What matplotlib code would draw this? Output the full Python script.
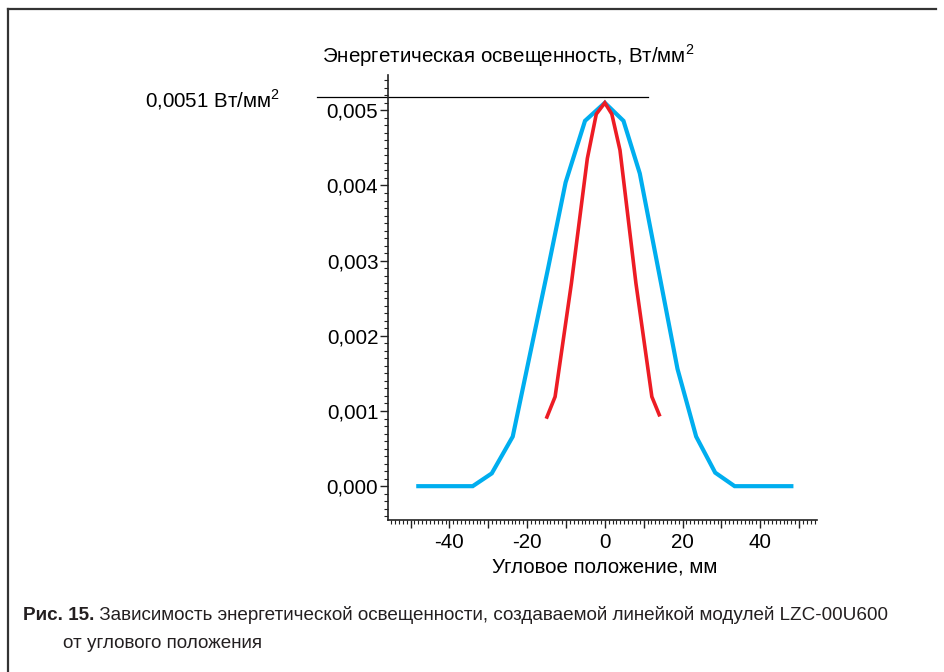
import matplotlib
matplotlib.use("Agg")
import matplotlib.pyplot as plt
from matplotlib.ticker import MultipleLocator, FuncFormatter
from matplotlib.lines import Line2D
from matplotlib import font_manager

# ---- data ----
blue_x = [-48, -34, -29.1, -23.7, -19.4, -14.6, -10.1, -5.1, 0, 4.8, 9.0, 13.9, 18.7, 23.5, 28.4, 33.4, 48]
blue_y = [0.0, 0.0, 0.00017, 0.00066, 0.00172, 0.0029, 0.00404, 0.00486, 0.0051,
          0.00486, 0.00416, 0.00285, 0.00156, 0.00066, 0.00018, 0.0, 0.0]
red_x = [-14.9, -12.8, -8.6, -4.5, -2.2, 0, 1.8, 3.9, 8.0, 12.1, 14.0]
red_y = [0.00092, 0.00119, 0.0027, 0.00436, 0.00495, 0.0051, 0.00495, 0.00447, 0.0027, 0.00119, 0.00095]
ref_level = 0.00518
ref_x = [-74, 11.1]
y_ticks = [0.000, 0.001, 0.002, 0.003, 0.004, 0.005]

title_text = "Энергетическая освещенность, Вт/мм$^2$"
xlabel_text = "Угловое положение, мм"
ref_label = "0,0051 Вт/мм$^2$"
cap_bold = "Рис. 15."
cap_line1 = " Зависимость энергетической освещенности, создаваемой линейкой модулей LZC-00U600"
cap_line2 = "от углового положения"

names = {f.name for f in font_manager.fontManager.ttflist}
main_font = "Liberation Sans" if "Liberation Sans" in names else "DejaVu Sans"
cap_font = "Liberation Sans Narrow" if "Liberation Sans Narrow" in names else main_font
plt.rcParams["font.family"] = [main_font, "DejaVu Sans"]
plt.rcParams["mathtext.fontset"] = "custom"
plt.rcParams["mathtext.rm"] = main_font

FS = 14.8
CAP_FS = 13.6

W, H = 945, 672
fig = plt.figure(figsize=(W / 100, H / 100), dpi=100)
fig.patch.set_facecolor("white")

ax = fig.add_axes([388 / W, 1 - 520 / H, (817 - 388) / W, (520 - 75) / H])
ax.plot(blue_x, blue_y, color="#00AEEF", lw=3.0, solid_joinstyle="miter")
ax.plot(red_x, red_y, color="#ED1C24", lw=2.6, solid_joinstyle="miter")
ax.plot(ref_x, [ref_level, ref_level], color="black", lw=0.9, clip_on=False)

ax.set_xlim(-55.8, 54.6)
ax.set_ylim(-0.00045, 0.00547)
for s in ["top", "right"]:
    ax.spines[s].set_visible(False)
for s in ["left", "bottom"]:
    ax.spines[s].set_linewidth(1.2)
    ax.spines[s].set_color("#222222")

ax.xaxis.set_major_locator(MultipleLocator(10))
ax.xaxis.set_minor_locator(MultipleLocator(1))
ax.xaxis.set_major_formatter(FuncFormatter(lambda v, p: f"{int(round(v))}" if int(round(v)) % 20 == 0 else ""))
ax.set_yticks(y_ticks)
ax.yaxis.set_minor_locator(MultipleLocator(0.0001))
ax.yaxis.set_major_formatter(FuncFormatter(lambda v, p: f"{v:.3f}".replace(".", ",")))
ax.tick_params(which="major", length=6, width=1.0, color="#222222", labelsize=FS, pad=1)
ax.tick_params(which="minor", length=3, width=0.8, color="#222222")
ax.tick_params(axis="x", pad=3)

fig.text(322 / W, 1 - 56 / H, title_text, fontsize=FS, ha="left", va="center")
fig.text(605 / W, 1 - 567 / H, xlabel_text, fontsize=FS, ha="center", va="center")
fig.text(145 / W, 1 - 100 / H, ref_label, fontsize=FS, ha="left", va="center")

# caption
t1 = fig.text(23 / W, 1 - 615 / H, cap_bold, fontsize=CAP_FS, fontweight="bold",
              family=[cap_font, "DejaVu Sans"], ha="left", va="center", color="#231F20")
fig.canvas.draw()
bb = t1.get_window_extent()
fig.text(bb.x1 / W, 1 - 615 / H, cap_line1, fontsize=CAP_FS,
         family=[cap_font, "DejaVu Sans"], ha="left", va="center", color="#231F20")
fig.text(63 / W, 1 - 643 / H, cap_line2, fontsize=CAP_FS,
         family=[cap_font, "DejaVu Sans"], ha="left", va="center", color="#231F20")

# frame
fig.add_artist(Line2D([8 / W, 936 / W], [1 - 9 / H, 1 - 9 / H], color="#333333", lw=1.6))
fig.add_artist(Line2D([8 / W, 8 / W], [1 - 9 / H, 0], color="#333333", lw=1.6))

fig.savefig("out.png", dpi=100, facecolor="white")
